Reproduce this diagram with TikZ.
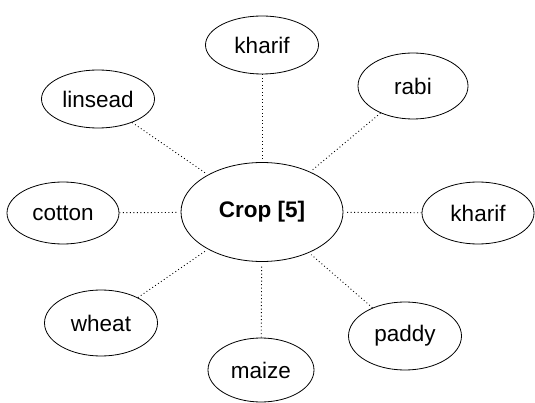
\documentclass[tikz,border=0pt]{standalone}
\usepackage{fontspec}
\setmainfont{Liberation Sans}
\usetikzlibrary{shapes.geometric}
\begin{document}
\begin{tikzpicture}[x=1pt,y=-1pt,
  leaf/.style={ellipse,draw,line width=0.8pt,inner sep=0pt,font=\fontsize{22.5}{26}\selectfont},
  link/.style={line width=0.9pt,dash pattern=on 0.9pt off 2.6pt}]
\useasboundingbox (0,0) rectangle (535,403);
\node[leaf,minimum width=162pt,minimum height=99pt,font=\fontsize{22.5}{26}\selectfont\bfseries] (crop) at (262,212) {Crop [5]};
\node[leaf,minimum width=113pt,minimum height=58pt] (kt) at (262,45) {kharif};
\node[leaf,minimum width=113pt,minimum height=58pt] (lin) at (98,99) {linsead};
\node[leaf,minimum width=110pt,minimum height=66pt] (rabi) at (413,86) {rabi};
\node[leaf,minimum width=112pt,minimum height=62pt] (cot) at (63,213) {cotton};
\node[leaf,minimum width=112pt,minimum height=62pt] (kr) at (478,213) {kharif};
\node[leaf,minimum width=113pt,minimum height=66pt] (wh) at (101,323) {wheat};
\node[leaf,minimum width=106pt,minimum height=64pt] (mz) at (261,370) {maize};
\node[leaf,minimum width=113pt,minimum height=68pt] (pd) at (405,336) {paddy};
\foreach \n in {kt,lin,rabi,cot,kr,wh,mz,pd}
  \draw[link,shorten >=3pt] (\n) -- (crop);
\end{tikzpicture}
\end{document}
